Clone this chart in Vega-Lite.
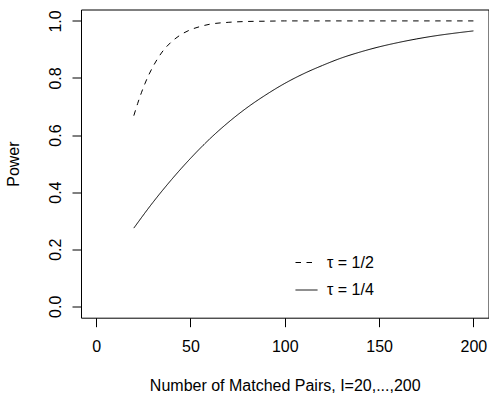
{
  "$schema": "https://vega.github.io/schema/vega-lite/v6.json",
  "width": 407.5,
  "height": 308.2,
  "autosize": {"type": "none"},
  "padding": {"left": 81, "top": 9.5, "right": 0.5, "bottom": 76.3},
  "background": "white",
  "config": {
    "font": "Liberation Sans",
    "view": {"stroke": "black", "strokeWidth": 1},
    "axis": {
      "domain": false,
      "grid": false,
      "tickColor": "black",
      "tickSize": 9,
      "tickWidth": 1,
      "labelColor": "black",
      "labelFontSize": 16,
      "titleColor": "black",
      "titleFontSize": 16,
      "titleFontWeight": "normal"
    }
  },
  "data": {
    "values": [
      {"pairs": 20, "power": 0.668, "tau": "τ = 1/2"},
      {"pairs": 22, "power": 0.710, "tau": "τ = 1/2"},
      {"pairs": 24, "power": 0.748, "tau": "τ = 1/2"},
      {"pairs": 26, "power": 0.782, "tau": "τ = 1/2"},
      {"pairs": 28, "power": 0.812, "tau": "τ = 1/2"},
      {"pairs": 30, "power": 0.838, "tau": "τ = 1/2"},
      {"pairs": 35, "power": 0.891, "tau": "τ = 1/2"},
      {"pairs": 40, "power": 0.927, "tau": "τ = 1/2"},
      {"pairs": 45, "power": 0.952, "tau": "τ = 1/2"},
      {"pairs": 50, "power": 0.969, "tau": "τ = 1/2"},
      {"pairs": 55, "power": 0.980, "tau": "τ = 1/2"},
      {"pairs": 60, "power": 0.988, "tau": "τ = 1/2"},
      {"pairs": 70, "power": 0.995, "tau": "τ = 1/2"},
      {"pairs": 80, "power": 0.998, "tau": "τ = 1/2"},
      {"pairs": 90, "power": 0.999, "tau": "τ = 1/2"},
      {"pairs": 100, "power": 1.0, "tau": "τ = 1/2"},
      {"pairs": 120, "power": 1.0, "tau": "τ = 1/2"},
      {"pairs": 140, "power": 1.0, "tau": "τ = 1/2"},
      {"pairs": 160, "power": 1.0, "tau": "τ = 1/2"},
      {"pairs": 180, "power": 1.0, "tau": "τ = 1/2"},
      {"pairs": 200, "power": 1.0, "tau": "τ = 1/2"},
      {"pairs": 20, "power": 0.274, "tau": "τ = 1/4"},
      {"pairs": 30, "power": 0.363, "tau": "τ = 1/4"},
      {"pairs": 40, "power": 0.444, "tau": "τ = 1/4"},
      {"pairs": 50, "power": 0.518, "tau": "τ = 1/4"},
      {"pairs": 60, "power": 0.585, "tau": "τ = 1/4"},
      {"pairs": 70, "power": 0.644, "tau": "τ = 1/4"},
      {"pairs": 80, "power": 0.696, "tau": "τ = 1/4"},
      {"pairs": 90, "power": 0.741, "tau": "τ = 1/4"},
      {"pairs": 100, "power": 0.781, "tau": "τ = 1/4"},
      {"pairs": 110, "power": 0.815, "tau": "τ = 1/4"},
      {"pairs": 120, "power": 0.844, "tau": "τ = 1/4"},
      {"pairs": 130, "power": 0.870, "tau": "τ = 1/4"},
      {"pairs": 140, "power": 0.891, "tau": "τ = 1/4"},
      {"pairs": 150, "power": 0.909, "tau": "τ = 1/4"},
      {"pairs": 160, "power": 0.924, "tau": "τ = 1/4"},
      {"pairs": 170, "power": 0.937, "tau": "τ = 1/4"},
      {"pairs": 180, "power": 0.948, "tau": "τ = 1/4"},
      {"pairs": 190, "power": 0.957, "tau": "τ = 1/4"},
      {"pairs": 200, "power": 0.965, "tau": "τ = 1/4"}
    ]
  },
  "mark": {"type": "line", "color": "black", "strokeWidth": 1, "interpolate": "monotone"},
  "encoding": {
    "x": {
      "field": "pairs",
      "type": "quantitative",
      "scale": {"domain": [-8, 208], "nice": false, "zero": false},
      "axis": {
        "values": [0, 50, 100, 150, 200],
        "labelPadding": 12,
        "title": "Number of Matched Pairs, I=20,...,200",
        "titlePadding": 23
      }
    },
    "y": {
      "field": "power",
      "type": "quantitative",
      "scale": {"domain": [-0.04, 1.04], "nice": false, "zero": false},
      "axis": {
        "values": [0, 0.2, 0.4, 0.6, 0.8, 1.0],
        "format": ".1f",
        "labelAngle": -90,
        "labelAlign": "center",
        "labelBaseline": "bottom",
        "labelPadding": 9,
        "title": "Power",
        "titlePadding": 26
      }
    },
    "strokeDash": {
      "field": "tau",
      "type": "nominal",
      "scale": {"domain": ["τ = 1/2", "τ = 1/4"], "range": [[5.5, 5.5], [1, 0]]},
      "legend": {
        "title": null,
        "orient": "none",
        "legendX": 214,
        "legendY": 241.5,
        "padding": 0,
        "symbolType": "stroke",
        "symbolSize": 484,
        "symbolStrokeColor": "black",
        "symbolStrokeWidth": 1,
        "labelFontSize": 16,
        "labelColor": "black",
        "labelOffset": 9,
        "rowPadding": 7.5
      }
    }
  }
}
